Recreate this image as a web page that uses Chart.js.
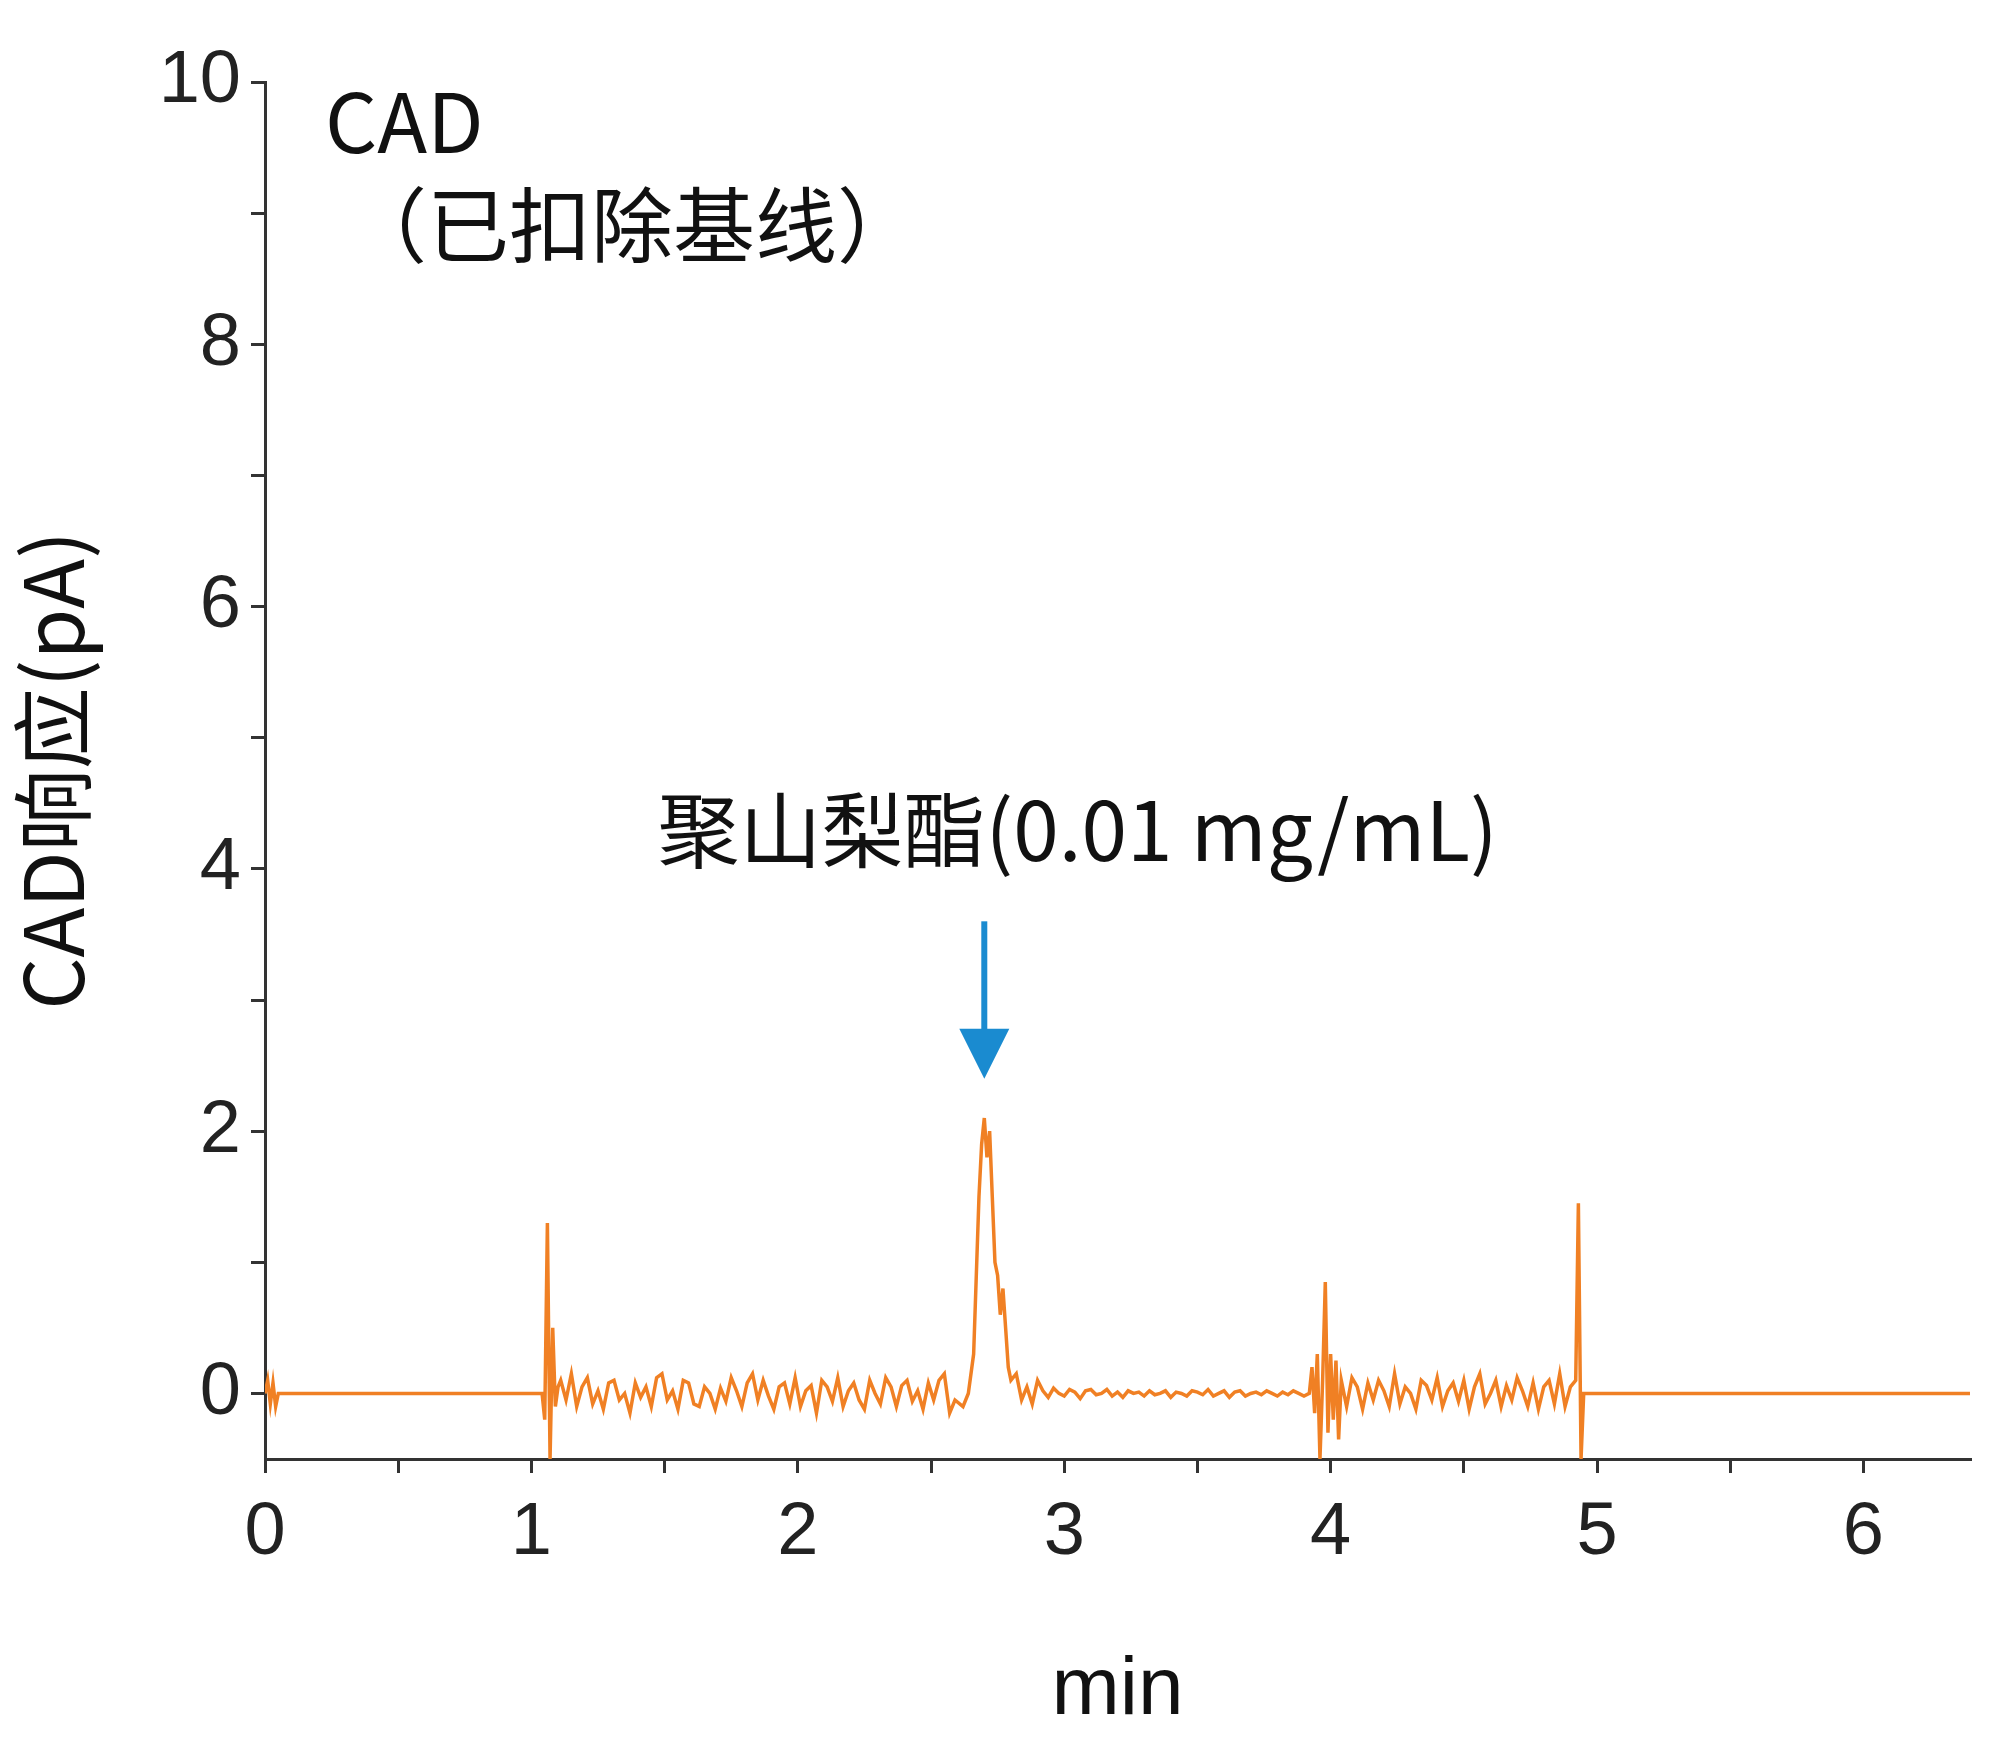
<!DOCTYPE html>
<html><head><meta charset="utf-8">
<script src="https://cdn.jsdelivr.net/npm/chart.js@4"></script>
<style>body{margin:0;background:#fff}</style>
</head><body>
<canvas id="c" width="2000" height="1745"></canvas>
<script>
// trace pieces (min, pA)
const headX = [0, 0.01, 0.02, 0.03, 0.04, 0.05, 0.06, 1.04, 1.05, 1.06, 1.07, 1.08, 1.09, 1.1];
const headY = [0, 0.1, -0.08, 0.08, -0.1, 0.0, 0, 0, -0.2, 1.3, -0.5, 0.5, -0.1, 0.05];
const noise1Y = [0.1,-0.05,0.15,-0.1,0.05,0.12,-0.08,0.02,-0.12,0.08,0.1,-0.05,0.0,-0.15,0.08,
  -0.03,0.05,-0.1,0.12,0.15,-0.05,0.02,-0.12,0.1,0.08,-0.08,-0.1,0.05,0.0,-0.12,
  0.04,-0.06,0.12,0.02,-0.1,0.08,0.15,-0.05,0.1,-0.02,-0.12,0.05,0.08,-0.08,0.12,
  -0.1,0.02,0.06,-0.15,0.1,0.05,-0.06,0.12,-0.1,0.02,0.08,-0.05,-0.12,0.1,0.0,
  -0.08,0.12,0.05,-0.1,0.06,0.1,-0.06,0.02,-0.12,0.08,-0.05,0.1,0.15,-0.15,-0.05];
const peakX = [2.62, 2.64, 2.66, 2.68, 2.69, 2.7, 2.71, 2.72, 2.73, 2.74, 2.75, 2.76, 2.77, 2.78, 2.79, 2.8, 2.82, 2.84, 2.86, 2.88, 2.9];
const peakY = [-0.1, 0.0, 0.3, 1.5, 1.9, 2.1, 1.8, 2.0, 1.5, 1.0, 0.9, 0.6, 0.8, 0.5, 0.2, 0.1, 0.15, -0.05, 0.05, -0.08, 0.1];
const noise2Y = [0.02,-0.03,0.04,0.0,-0.02,0.03,0.01,-0.04,0.02,0.03,-0.01,0.0,0.03,-0.02,0.01,
  -0.03,0.02,0.0,0.01,-0.02,0.02,-0.01,0.0,0.02,-0.03,0.01,0.0,-0.02,0.02,0.01,
  -0.01,0.03,-0.02,0.0,0.02,-0.03,0.01,0.02,-0.02,0.0,0.01,-0.01,0.02,0.0,-0.02,0.01,-0.01,0.02,0.0,-0.02,0.0];
const spikeX = [3.93, 3.94, 3.95, 3.96, 3.97, 3.98, 3.99, 4.0, 4.01, 4.02, 4.03, 4.04];
const spikeY = [0.2, -0.15, 0.3, -0.5, 0.1, 0.85, -0.3, 0.3, -0.2, 0.25, -0.35, 0.1];
const noise3Y = [-0.1,0.12,0.05,-0.12,0.08,-0.05,0.1,0.02,-0.1,0.15,-0.08,0.05,0.0,-0.12,0.1,
  0.06,-0.05,0.12,-0.1,0.02,0.08,-0.06,0.1,-0.12,0.05,0.15,-0.08,0.0,0.1,-0.1,
  0.06,-0.05,0.12,0.02,-0.1,0.08,-0.12,0.05,0.1,-0.08,0.15,-0.1,0.05];
const tailX = [4.92, 4.93, 4.94, 4.95, 4.96, 5.0, 6.4];
const tailY = [0.1, 1.45, -0.5, 0.0, 0.0, 0.0, 0.0];

const xTicks = [0, 0.5, 1, 1.5, 2, 2.5, 3, 3.5, 4, 4.5, 5, 5.5, 6];
const yTicks = [0, 1, 2, 3, 4, 5, 6, 7, 8, 9, 10];

const pts = [];
headX.forEach((x, i) => pts.push({x, y: headY[i]}));
noise1Y.forEach((y, i) => pts.push({x: 1.11 + i * 0.02, y}));
peakX.forEach((x, i) => pts.push({x, y: peakY[i]}));
noise2Y.forEach((y, i) => pts.push({x: 2.92 + i * 0.02, y}));
spikeX.forEach((x, i) => pts.push({x, y: spikeY[i]}));
noise3Y.forEach((y, i) => pts.push({x: 4.06 + i * 0.02, y}));
tailX.forEach((x, i) => pts.push({x, y: tailY[i]}));

const cjk = '"Noto Sans CJK SC", "Noto Sans", sans-serif';
const latin = 'Arial, "Liberation Sans", sans-serif';

const notes = {
  id: 'notes',
  afterDraw(chart) {
    const {ctx, scales: {x, y}} = chart;
    ctx.save();
    ctx.fillStyle = '#111';
    ctx.font = '82px ' + cjk;
    ctx.textBaseline = 'middle';
    ctx.textAlign = 'left';
    ctx.fillText('CAD', 325, 122);
    ctx.fillText('（已扣除基线）', 345, 225);
    ctx.textAlign = 'center';
    ctx.fillText('聚山梨酯(0.01 mg/mL)', x.getPixelForValue(3.05), y.getPixelForValue(4.3));
    const ax = x.getPixelForValue(2.7);
    const y0 = y.getPixelForValue(3.6), y1 = y.getPixelForValue(2.4);
    ctx.strokeStyle = ctx.fillStyle = '#1a8bd0';
    ctx.lineWidth = 6;
    ctx.beginPath(); ctx.moveTo(ax, y0); ctx.lineTo(ax, y1 - 45); ctx.stroke();
    ctx.beginPath(); ctx.moveTo(ax - 25, y1 - 50); ctx.lineTo(ax + 25, y1 - 50); ctx.lineTo(ax, y1); ctx.closePath(); ctx.fill();
    ctx.restore();
  }
};

new Chart(document.getElementById('c').getContext('2d'), {
  type: 'scatter',
  data: {
    datasets: [{
      data: pts,
      showLine: true,
      borderColor: '#f08024',
      borderWidth: 3.5,
      pointRadius: 0,
      tension: 0
    }]
  },
  options: {
    responsive: false,
    animation: false,
    layout: {padding: {top: 82, right: 30}},
    plugins: {legend: {display: false}, tooltip: {enabled: false}},
    scales: {
      x: {
        min: 0, max: 6.4,
        afterFit: s => { s.height = 1745 - 1459; },
        afterBuildTicks: s => { s.ticks = xTicks.map(v => ({value: v})); },
        border: {color: '#333', width: 3},
        grid: {drawOnChartArea: false, tickLength: 14, color: '#333', lineWidth: 3},
        ticks: {color: '#222', font: {size: 74, family: latin}, padding: 16,
          callback: v => Number.isInteger(v) ? v : ''},
        title: {display: true, text: 'min', color: '#111', font: {size: 82, family: latin}, padding: {top: 20}}
      },
      y: {
        min: -0.5, max: 10,
        afterFit: s => { s.width = 265; },
        afterBuildTicks: s => { s.ticks = yTicks.map(v => ({value: v})); },
        border: {color: '#333', width: 3},
        grid: {drawOnChartArea: false, tickLength: 14, color: '#333', lineWidth: 3},
        ticks: {color: '#222', font: {size: 74, family: latin}, padding: 10,
          callback: v => v % 2 === 0 ? v : ''},
        title: {display: true, text: 'CAD响应(pA)', color: '#111', font: {size: 82, family: cjk}, padding: {bottom: 40}}
      }
    }
  },
  plugins: [notes]
});
</script>
</body></html>
